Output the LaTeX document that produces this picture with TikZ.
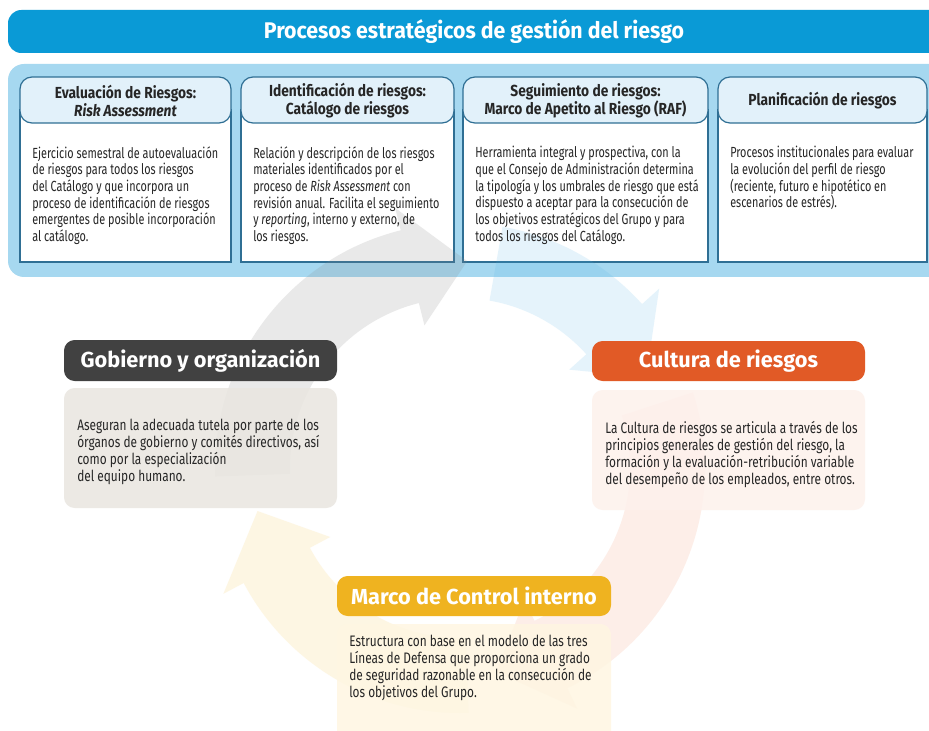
\documentclass[tikz,border=0pt]{standalone}
\usepackage{fontspec}
\setmainfont{Fira Sans}[FakeStretch=0.74]
\newfontfamily\hfont{Fira Sans}[FakeStretch=0.86]
\newfontfamily\bfont{Fira Sans}[FakeStretch=0.94]
\newfontfamily\tfont{Fira Sans}[FakeStretch=1.0]
\newfontfamily\lfont{Fira Sans}[FakeStretch=0.78]
\definecolor{banner}{HTML}{0A9AD6}
\definecolor{panel}{HTML}{A6D8F0}
\definecolor{hdrfill}{HTML}{E2F1FA}
\definecolor{bord}{HTML}{2F6F94}
\definecolor{darkt}{HTML}{414141}
\definecolor{orng}{HTML}{E15A26}
\definecolor{yel}{HTML}{EFB320}
\definecolor{txt}{HTML}{262626}
\definecolor{gobbody}{HTML}{E9E6E0}
\definecolor{culbody}{HTML}{FDF1EC}
\definecolor{marbody}{HTML}{FFF6E2}
\definecolor{rgray}{HTML}{8A8A8A}
\definecolor{rblue}{HTML}{4AB0E6}
\definecolor{rorng}{HTML}{F07A4A}
\definecolor{ryel}{HTML}{F7C545}
\tikzset{
  bodytxt/.style={font=\fontsize{11}{12.5}\selectfont, text=txt, align=left, inner sep=0pt, anchor=north west},
  lowtxt/.style={font=\lfont\fontsize{11.4}{12.75}\selectfont, text=txt, align=left, inner sep=0pt, anchor=north west},
  hdrtxt/.style={font=\hfont\bfseries\fontsize{12}{13.5}\selectfont, text=txt, align=center, inner sep=0pt},
  ttltxt/.style={font=\tfont\bfseries\fontsize{16.3}{19}\selectfont, text=white, inner sep=0pt},
  boxbody/.style={draw=bord, fill=white, line width=0.9pt},
  boxhead/.style={draw=bord, fill=hdrfill, line width=0.9pt, rounded corners=9},
}
\newcommand\ringarrow[5]{% color, start, wing, tip, opacity
  \fill[#1, opacity=#5] (#2:245) arc[start angle=#2, end angle=#3, radius=245]
    -- (#3:268) -- (#4:207) -- (#3:147) -- (#3:170)
    arc[start angle=#3, end angle=#2, radius=170] -- cycle;}
\begin{document}
\begin{tikzpicture}[x=0.75pt,y=-0.75pt]
\useasboundingbox (0,0) rectangle (929,731);
\fill[white] (0,0) rectangle (929,731);
% banner
\fill[banner, rounded corners=10] (8,10) rectangle (950,53);
\node[font=\bfont\bfseries\fontsize{17}{19}\selectfont, text=white, inner sep=0pt] (bannertxt) at (474,32) {Procesos estratégicos de gestión del riesgo};
% panel
\fill[panel, rounded corners=12] (8,64) rectangle (950,277);
% boxes
\draw[boxbody] (20,110) rectangle (231,262);
\draw[boxhead] (20,77) rectangle (231,123);
\draw[boxbody] (241,110) rectangle (454,262);
\draw[boxhead] (241,77) rectangle (454,123);
\draw[boxbody] (463,110) rectangle (708,262);
\draw[boxhead] (463,77) rectangle (708,123);
\draw[boxbody] (718,110) rectangle (927,262);
\draw[boxhead] (718,77) rectangle (927,123);
% ring of arrows
\begin{scope}[shift={(460,468)}, yscale=-1]
  \ringarrow{rgray}{182}{104}{88}{0.18}
  \ringarrow{rblue}{80}{42}{26}{0.14}
  \ringarrow{rorng}{18}{-64}{-80}{0.12}
  \ringarrow{ryel}{-88}{-152}{-168}{0.15}
\end{scope}
% top box texts
\node[hdrtxt] (h1) at (125.5,101) {Evaluación de Riesgos:\\\textit{Risk Assessment}};
\node[hdrtxt] (h2) at (347.5,101) {Identificación de riesgos:\\Catálogo de riesgos};
\node[hdrtxt] (h3) at (585.5,101) {Seguimiento de riesgos:\\Marco de Apetito al Riesgo (RAF)};
\node[hdrtxt] (h4) at (822.5,101) {Planificación de riesgos};
\node[bodytxt] (t1) at (32,146) {Ejercicio semestral de autoevaluación\\de riesgos para todos los riesgos\\del Catálogo y que incorpora un\\proceso de identificación de riesgos\\emergentes de posible incorporación\\al catálogo.};
\node[bodytxt] (t2) at (253,146) {Relación y descripción de los riesgos\\materiales identificados por el\\proceso de \textit{Risk Assessment} con\\revisión anual. Facilita el seguimiento\\y \textit{reporting}, interno y externo, de\\los riesgos.};
\node[bodytxt] (t3) at (475,146) {Herramienta integral y prospectiva, con la\\que el Consejo de Administración determina\\la tipología y los umbrales de riesgo que está\\dispuesto a aceptar para la consecución de\\los objetivos estratégicos del Grupo y para\\todos los riesgos del Catálogo.};
\node[bodytxt] (t4) at (730,146) {Procesos institucionales para evaluar\\la evolución del perfil de riesgo\\(reciente, futuro e hipotético en\\escenarios de estrés).};
% Gobierno
\fill[darkt, rounded corners=8] (64,340) rectangle (337,381);
\fill[gobbody, opacity=0.85, rounded corners=8] (64,388) rectangle (337,508);
\node[ttltxt] (gt) at (200.5,361) {Gobierno y organización};
\node[lowtxt] (gb) at (77,419) {Aseguran la adecuada tutela por parte de los\\órganos de gobierno y comités directivos, así\\como por la especialización\\del equipo humano.};
% Cultura
\fill[orng, rounded corners=8] (592,341) rectangle (865,381);
\fill[culbody, opacity=0.85, rounded corners=8] (592,390) rectangle (865,510);
\node[ttltxt] (ct) at (728.5,361) {Cultura de riesgos};
\node[lowtxt] (cb) at (605,421) {La Cultura de riesgos se articula a través de los\\principios generales de gestión del riesgo, la\\formación y la evaluación-retribución variable\\del desempeño de los empleados, entre otros.};
% Marco
\fill[yel, rounded corners=8] (337,576) rectangle (611,616);
\fill[marbody, opacity=0.85, rounded corners=8] (337,624) rectangle (611,745);
\node[ttltxt] (mt) at (474,596) {Marco de Control interno};
\node[lowtxt] (mb) at (349,635) {Estructura con base en el modelo de las tres\\Líneas de Defensa que proporciona un grado\\de seguridad razonable en la consecución de\\los objetivos del Grupo.};
\end{tikzpicture}
\end{document}
